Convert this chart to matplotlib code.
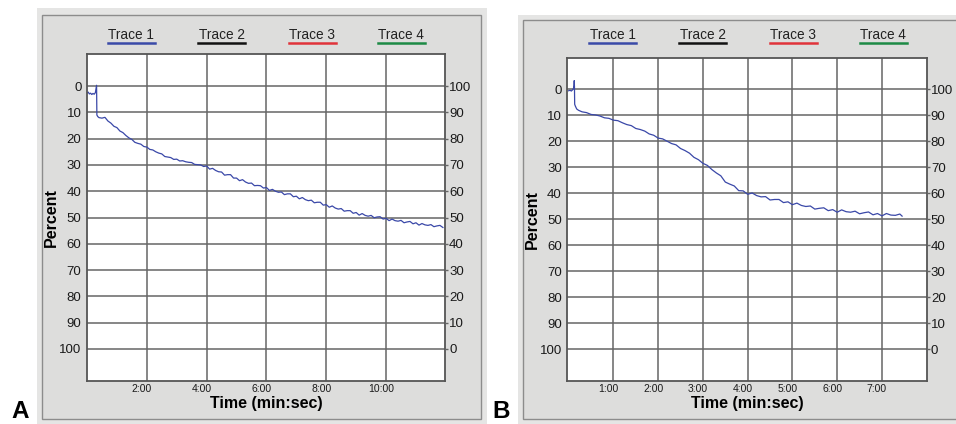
import matplotlib
matplotlib.use("Agg")
import matplotlib.pyplot as plt
import matplotlib.transforms as mtransforms
from matplotlib.patches import Rectangle
from matplotlib.lines import Line2D

plt.rcParams['font.family'] = ['Liberation Sans', 'DejaVu Sans']

W, H = 956, 424

# trace 1, panel A: (time in minutes, percent)
trace_a = [
    (0.00, 2.6), (0.04, 2.3), (0.08, 3.0), (0.12, 2.7), (0.16, 3.2), (0.20, 2.8), (0.24, 3.1),
    (0.28, 2.5), (0.30, 1.2), (0.32, -0.3), (0.325, 5.0), (0.33, 11.0), (0.36, 11.6),
    (0.4, 12.0), (0.5, 12.2), (0.6, 11.9), (0.7, 13.3), (0.8, 14.1), (0.9, 15.3), (1.0, 15.8),
    (1.1, 17.1), (1.2, 17.7), (1.3, 18.8), (1.4, 19.7), (1.5, 20.3), (1.6, 21.4), (1.7, 21.8),
    (1.8, 22.1), (1.9, 23.0), (2.0, 23.2), (2.1, 24.1), (2.2, 24.3), (2.3, 25.0), (2.4, 25.5),
    (2.5, 25.8), (2.6, 26.8), (2.7, 27.0), (2.8, 27.2), (2.9, 27.9), (3.0, 27.8), (3.1, 28.5),
    (3.2, 28.4), (3.3, 28.8), (3.4, 29.0), (3.5, 29.1), (3.6, 29.8), (3.7, 29.9), (3.8, 30.0),
    (3.9, 30.6), (4.0, 30.4), (4.1, 31.6), (4.2, 31.3), (4.3, 32.1), (4.4, 32.6), (4.5, 32.7),
    (4.6, 33.9), (4.7, 33.7), (4.8, 33.7), (4.9, 35.0), (5.0, 35.0), (5.1, 36.0), (5.2, 35.6),
    (5.3, 36.5), (5.4, 37.0), (5.5, 36.9), (5.6, 37.9), (5.7, 37.8), (5.8, 37.9), (5.9, 38.8),
    (6.0, 38.6), (6.1, 39.7), (6.2, 39.3), (6.3, 40.0), (6.4, 40.4), (6.5, 40.3), (6.6, 41.3),
    (6.7, 41.0), (6.8, 41.0), (6.9, 42.1), (7.0, 41.9), (7.1, 42.9), (7.2, 42.4), (7.3, 43.2),
    (7.4, 43.6), (7.5, 43.4), (7.6, 44.4), (7.7, 44.2), (7.8, 44.2), (7.9, 45.3), (8.0, 45.1),
    (8.1, 46.1), (8.2, 45.6), (8.3, 46.4), (8.4, 46.8), (8.5, 46.6), (8.6, 47.6), (8.7, 47.4),
    (8.8, 47.4), (8.9, 48.4), (9.0, 48.1), (9.1, 49.1), (9.2, 48.5), (9.3, 49.2), (9.4, 49.5),
    (9.5, 49.2), (9.6, 50.1), (9.7, 49.8), (9.8, 49.7), (9.9, 50.6), (10.0, 50.3), (10.1, 51.2),
    (10.2, 50.6), (10.3, 51.2), (10.4, 51.4), (10.5, 51.1), (10.6, 52.0), (10.7, 51.7),
    (10.8, 51.5), (10.9, 52.4), (11.0, 52.0), (11.1, 52.9), (11.2, 52.3), (11.3, 52.8),
    (11.4, 53.0), (11.5, 52.7), (11.6, 53.5), (11.7, 53.2), (11.8, 53.0), (11.9, 53.8),
]

# trace 1, panel B
trace_b = [
    (0.00, 0.6), (0.03, 0.4), (0.06, 0.7), (0.09, 0.2), (0.11, -0.4), (0.12, -1.5), (0.125, -3.3),
    (0.13, -1.0), (0.135, 5.8), (0.15, 6.5), (0.18, 7.6), (0.22, 8.1),
    (0.3, 8.7), (0.4, 9.0), (0.5, 9.7), (0.6, 9.9), (0.7, 10.3), (0.8, 11.0), (0.9, 11.2),
    (1.0, 11.9), (1.1, 12.1), (1.2, 12.9), (1.3, 13.6), (1.4, 14.0), (1.5, 15.1), (1.6, 15.5),
    (1.7, 16.1), (1.8, 17.2), (1.9, 17.7), (2.0, 18.8), (2.1, 19.1), (2.2, 20.0), (2.3, 20.9),
    (2.4, 21.4), (2.5, 22.8), (2.6, 23.6), (2.7, 24.6), (2.8, 26.2), (2.9, 27.1), (3.0, 28.5),
    (3.1, 29.3), (3.2, 30.9), (3.3, 32.2), (3.4, 33.3), (3.5, 35.7), (3.6, 36.5), (3.7, 37.2),
    (3.8, 39.0), (3.9, 39.1), (4.0, 40.4), (4.1, 39.9), (4.2, 40.9), (4.3, 41.4), (4.4, 41.3),
    (4.5, 42.6), (4.6, 42.4), (4.7, 42.4), (4.8, 43.6), (4.9, 43.3), (5.0, 44.4), (5.1, 43.8),
    (5.2, 44.7), (5.3, 45.1), (5.4, 44.9), (5.5, 46.1), (5.6, 45.8), (5.7, 45.6), (5.8, 46.7),
    (5.9, 46.3), (6.0, 47.3), (6.1, 46.4), (6.2, 47.1), (6.3, 47.3), (6.4, 46.9), (6.5, 47.9),
    (6.6, 47.5), (6.7, 47.2), (6.8, 48.3), (6.9, 47.8), (7.0, 48.7), (7.1, 47.8), (7.2, 48.4),
    (7.3, 48.5), (7.4, 48.0), (7.45, 48.8),
]

left_ticks = [0, 10, 20, 30, 40, 50, 60, 70, 80, 90, 100]
right_labels = ['100', '90', '80', '70', '60', '50', '40', '30', '20', '10', '0']
ticks_a = [2, 4, 6, 8, 10]
labels_a = ['2:00', '4:00', '6:00', '8:00', '10:00']
ticks_b = [1, 2, 3, 4, 5, 6, 7]
labels_b = ['1:00', '2:00', '3:00', '4:00', '5:00', '6:00', '7:00']
legend_names = ['Trace 1', 'Trace 2', 'Trace 3', 'Trace 4']
legend_colors = ['#3a4aa8', '#111111', '#e0333a', '#1d8a45']

fig = plt.figure(figsize=(W / 100, H / 100), dpi=100)


def fx(x):
    return x / W


def fy(y):
    return 1 - y / H


def box(x0, y0, x1, y1, **kw):
    fig.patches.append(Rectangle((fx(x0), fy(y1)), fx(x1) - fx(x0), fy(y0) - fy(y1),
                                 transform=fig.transFigure, zorder=-5, **kw))


def panel(frame, inner, plot, ylim, xlim, ticks, labels, data, leg_x, letter, letter_x):
    box(*frame, facecolor='#e5e5e4', edgecolor='none')
    box(*inner, facecolor='#dddddc', edgecolor='#8c8c8c', lw=1.0)

    x0, y0, x1, y1 = plot
    ax = fig.add_axes([fx(x0), fy(y1), fx(x1) - fx(x0), fy(y0) - fy(y1)])
    ax.set_facecolor('white')
    ax.set_xlim(*xlim)
    ax.set_ylim(*ylim)
    ax.set_yticks(left_ticks)
    ax.set_xticks(ticks)
    ax.set_xticklabels(labels, fontsize=7.5)
    ax.grid(True, color='#666666', lw=1.1)
    ax.tick_params(axis='y', length=0, pad=4, labelsize=9.5, labelcolor='#1a1a1a')
    ax.tick_params(axis='x', length=0, pad=2.5, labelcolor='#1a1a1a')
    shift = mtransforms.ScaledTranslation(-0.05, 0, fig.dpi_scale_trans)
    for lab in ax.get_xticklabels():
        lab.set_transform(lab.get_transform() + shift)
    for sp in ax.spines.values():
        sp.set_color('#555555')
        sp.set_linewidth(1.3)

    t, pct = zip(*data)
    ax.plot(t, pct, color='#3a48a8', lw=0.9)

    ax2 = ax.twinx()
    ax2.set_ylim(*ylim)
    ax2.set_yticks(left_ticks)
    ax2.set_yticklabels(right_labels)
    ax2.tick_params(axis='y', length=2, width=1.0, color='#666666', pad=1, labelsize=9.5,
                    labelcolor='#1a1a1a')
    for sp in ax2.spines.values():
        sp.set_visible(False)

    ax.set_xlabel('Time (min:sec)', fontsize=11.5, fontweight='bold', labelpad=1)
    ax.set_ylabel('Percent', fontsize=11.5, fontweight='bold', labelpad=0)

    for name, col, lx in zip(legend_names, legend_colors, leg_x):
        fig.text(fx(lx), fy(35), name, fontsize=9.8, ha='center', va='center', color='#222222')
        fig.add_artist(Line2D([fx(lx - 23.5), fx(lx + 23.5)], [fy(42.6), fy(42.6)],
                              color=col, lw=1.8, transform=fig.transFigure))

    fig.text(fx(letter_x), fy(423), letter, fontsize=17.5, fontweight='bold', ha='left', va='bottom')


panel((37, 8, 487, 424), (42, 15, 481, 419), (87, 54, 445, 381), (112.2, -12.2), (0, 11.97),
      ticks_a, labels_a, trace_a, [131.3, 221.7, 312, 401], 'A', 11)
panel((518, 15, 956, 424), (523, 20, 962, 419), (567.3, 58, 926.7, 381), (112.2, -12.0), (-0.03, 8.0),
      ticks_b, labels_b, trace_b, [612.7, 702.7, 793.3, 883.3], 'B', 492)

fig.savefig('out.png', dpi=100)
